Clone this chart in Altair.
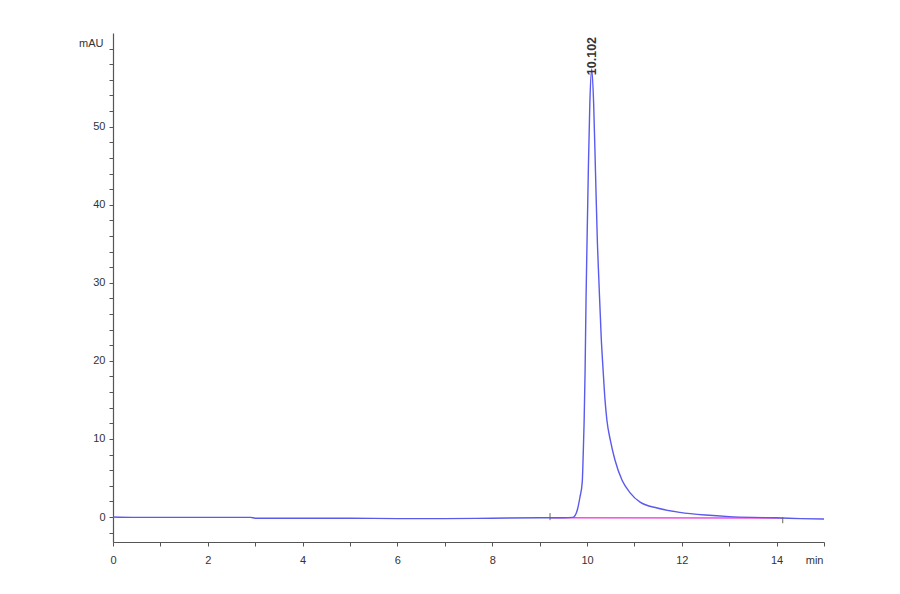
import altair as alt
import pandas as pd

# chromatogram trace (time in min, signal in mAU)
trace_t = [0.0, 0.4, 1.0, 2.0, 2.9, 3.0, 4.0, 5.0, 6.0, 7.0, 8.0, 9.0, 9.5, 9.7,
           9.75, 9.8, 9.85, 9.9, 9.92, 9.94, 9.96, 9.98, 10.0, 10.03, 10.06, 10.1,
           10.14, 10.18, 10.22, 10.25, 10.3, 10.34, 10.38, 10.42, 10.49, 10.59,
           10.74, 10.91, 11.12, 11.48, 11.96, 12.5, 13.0, 13.5, 14.0, 14.5, 15.0]
trace_v = [0.0, -0.05, -0.05, -0.05, -0.05, -0.15, -0.15, -0.15, -0.2, -0.2, -0.15,
           -0.1, -0.1, -0.05, 0.2, 1.0, 2.5, 4.5, 8.0, 12.4, 18.8, 28.0, 35.0, 45.0,
           53.0, 57.4, 53.0, 44.0, 35.0, 30.4, 23.0, 18.8, 15.0, 12.4, 9.9, 7.3,
           4.7, 3.1, 1.9, 1.15, 0.6, 0.25, 0.05, -0.05, -0.1, -0.2, -0.25]

# integration baseline
base_t = [9.22, 14.13]
base_v = [-0.1, -0.13]

# integration start / end markers
mark_t = [9.22, 14.13]
mark_lo = [-0.4, -0.8]
mark_hi = [0.5, 0.0]

peak_rt = 10.102
peak_label = "10.102"

x_ticks = [i * 0.5 for i in range(31)]
y_ticks = list(range(-2, 61, 2))

df_trace = pd.DataFrame({"t": trace_t, "v": trace_v})
df_base = pd.DataFrame({"t": base_t, "v": base_v})
df_marks = pd.DataFrame({"t": mark_t, "lo": mark_lo, "hi": mark_hi})
df_label = pd.DataFrame({"t": [peak_rt], "v": [56.6], "txt": [peak_label]})

x_scale = alt.Scale(domain=[0, 15], nice=False, zero=False)
y_scale = alt.Scale(domain=[-3.2, 62], nice=False, zero=False)

# tickCount high so vega doesn't thin out the minor ticks
x_axis = alt.Axis(
    values=x_ticks, tickCount=200, format="d", title="min", grid=False, tickSize=4,
    labelPadding=8, labelFlush=False, labelOverlap=False,
    labelExpr="datum.value % 2 == 0 && datum.value < 15 ? datum.label : ''",
    titleX=710, titleY=18, titleAlign="right", titleBaseline="middle",
    titleFontWeight="normal", titleFontSize=11,
)
y_axis = alt.Axis(
    values=y_ticks, tickCount=200, format="d", title="mAU", grid=False, tickSize=4,
    labelPadding=4, labelOverlap=False,
    labelExpr="datum.value % 10 == 0 && datum.value >= 0 && datum.value <= 50 ? datum.label : ''",
    titleAngle=0, titleX=-10, titleY=10, titleAlign="right", titleBaseline="middle",
    titleFontWeight="normal", titleFontSize=11,
)

line = alt.Chart(df_trace).mark_line(
    color="#5a5aee", strokeWidth=1.4, interpolate="monotone"
).encode(
    x=alt.X("t:Q", scale=x_scale, axis=x_axis),
    y=alt.Y("v:Q", scale=y_scale, axis=y_axis),
    order="t:Q",
)

baseline = alt.Chart(df_base).mark_line(color="#f050e0", strokeWidth=1.6).encode(
    x=alt.X("t:Q", scale=x_scale),
    y=alt.Y("v:Q", scale=y_scale),
)

markers = alt.Chart(df_marks).mark_rule(color="#666666", strokeWidth=1).encode(
    x=alt.X("t:Q", scale=x_scale),
    y=alt.Y("lo:Q", scale=y_scale),
    y2="hi:Q",
)

label = alt.Chart(df_label).mark_text(
    angle=270, align="left", baseline="middle", fontSize=12.5,
    fontWeight="bold", color="#333333", font="Liberation Sans",
).encode(
    x=alt.X("t:Q", scale=x_scale),
    y=alt.Y("v:Q", scale=y_scale),
    text="txt:N",
)

chart = (baseline + line + markers + label).properties(
    width=711, height=509,
    autosize=alt.AutoSizeParams(type="none"),
    padding={"left": 105, "top": 25, "right": 10, "bottom": 40},
).configure_view(
    stroke=None
).configure_axis(
    domainColor="#555555", tickColor="#555555", labelColor="#333333",
    titleColor="#333333", labelFont="Liberation Sans", titleFont="Liberation Sans",
    labelFontSize=11, domainWidth=1.2,
)

chart.save("out.html", embed_options={"renderer": "svg", "actions": False})
